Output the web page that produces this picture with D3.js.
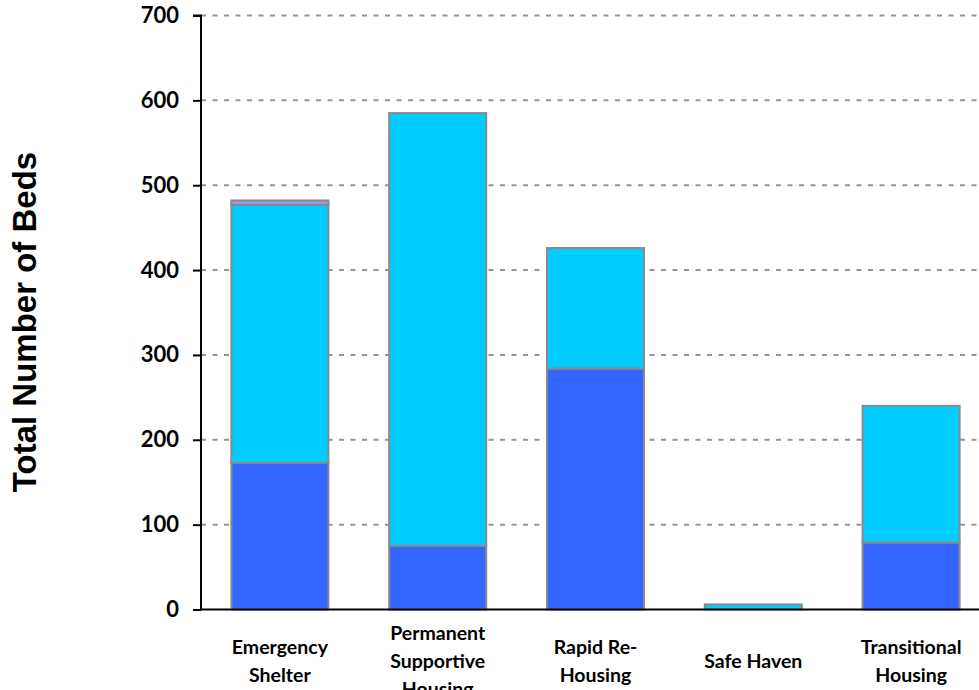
<!DOCTYPE html>
<html>
<head>
<meta charset="utf-8">
<script src="https://cdn.jsdelivr.net/npm/d3@7/dist/d3.min.js"></script>
<style>
  html, body { margin: 0; padding: 0; background: #fff; }
  svg { display: block; }
</style>
</head>
<body>
<svg id="chart" width="979" height="690"></svg>
<script>
const categories = ["Emergency Shelter", "Permanent Supportive Housing", "Rapid Re-Housing", "Safe Haven", "Transitional Housing"];
const categoryLines = [["Emergency", "Shelter"], ["Permanent", "Supportive", "Housing"], ["Rapid Re-", "Housing"], ["Safe Haven"], ["Transitional", "Housing"]];
const seriesNames = ["Family Beds", "Adult-Only Beds", "Child-Only Beds"];
const familyBeds = [173, 75, 284, 0, 79];
const adultOnlyBeds = [304, 510, 142, 6, 161];
const childOnlyBeds = [5, 0, 0, 0, 0];
const yTicks = [0, 100, 200, 300, 400, 500, 600, 700];
const colors = ["#3366FF", "#00CCFF", "#9999FF"];

const svg = d3.select("#chart");
const pLeft = 201, pRight = 990, pTop = 15.5, pBottom = 609.5;

const rows = categories.map((c, i) => ({
  category: c,
  [seriesNames[0]]: familyBeds[i],
  [seriesNames[1]]: adultOnlyBeds[i],
  [seriesNames[2]]: childOnlyBeds[i]
}));
const stacked = d3.stack().keys(seriesNames)(rows);

const x = d3.scaleBand().domain(categories).range([pLeft, pRight]).paddingInner(0.385).paddingOuter(0.1925);
const y = d3.scaleLinear().domain([0, 700]).range([pBottom, pTop]);

// gridlines
svg.append("g").selectAll("line").data(yTicks.filter(t => t > 0)).join("line")
  .attr("x1", pLeft).attr("x2", 979)
  .attr("y1", d => y(d)).attr("y2", d => y(d))
  .attr("stroke", "#959595").attr("stroke-width", 2)
  .attr("stroke-dasharray", "5,6.5");

// bars
svg.append("g").selectAll("g").data(stacked).join("g")
  .attr("fill", (d, i) => colors[i])
  .selectAll("rect").data(d => d.filter(s => s[1] - s[0] > 0).map(s => ({ s, cat: s.data.category }))).join("rect")
  .attr("x", d => x(d.cat))
  .attr("width", x.bandwidth())
  .attr("y", d => y(d.s[1]))
  .attr("height", d => y(d.s[0]) - y(d.s[1]))
  .attr("stroke", "#8a8a8a").attr("stroke-width", 2);

// y axis
const yAxis = d3.axisLeft(y).tickValues(yTicks).tickSize(8).tickPadding(14).tickFormat(d3.format("d"));
const gy = svg.append("g").attr("transform", `translate(${pLeft},0)`).call(yAxis);
gy.select(".domain").attr("stroke", "#000").attr("stroke-width", 2).attr("d", `M-8,${pTop}H0V${pBottom}`);
gy.selectAll(".tick line").attr("stroke", "#000").attr("stroke-width", 2);
gy.selectAll(".tick text").attr("font-family", "Lato, 'Open Sans', sans-serif").attr("font-weight", "bold")
  .attr("font-size", 22).attr("fill", "#000");

// x axis
const gx = svg.append("g").attr("transform", `translate(0,${pBottom})`).call(d3.axisBottom(x).tickSize(0).tickFormat(""));
gx.select(".domain").attr("stroke", "#000").attr("stroke-width", 2).attr("d", `M${pLeft},0H979`);

// x labels
const lab = svg.append("g").selectAll("text").data(categories).join("text")
  .attr("text-anchor", "middle")
  .attr("font-family", "Lato, 'Open Sans', sans-serif").attr("font-weight", "bold")
  .attr("font-size", 19.5).attr("fill", "#000");
lab.each(function (c, i) {
  const lines = categoryLines[i];
  const n = lines.length;
  d3.select(this).selectAll("tspan").data(lines).join("tspan")
    .attr("x", x(c) + x.bandwidth() / 2)
    .attr("y", (l, j) => 668 + (j - (n - 1) / 2) * 28)
    .text(l => l);
});

// y title
svg.append("text")
  .attr("transform", "translate(36,322) rotate(-90)")
  .attr("text-anchor", "middle")
  .attr("font-family", "'Liberation Sans', Arial, sans-serif").attr("font-weight", "bold")
  .attr("font-size", 33).attr("fill", "#000")
  .text("Total Number of Beds");
</script>
</body>
</html>
